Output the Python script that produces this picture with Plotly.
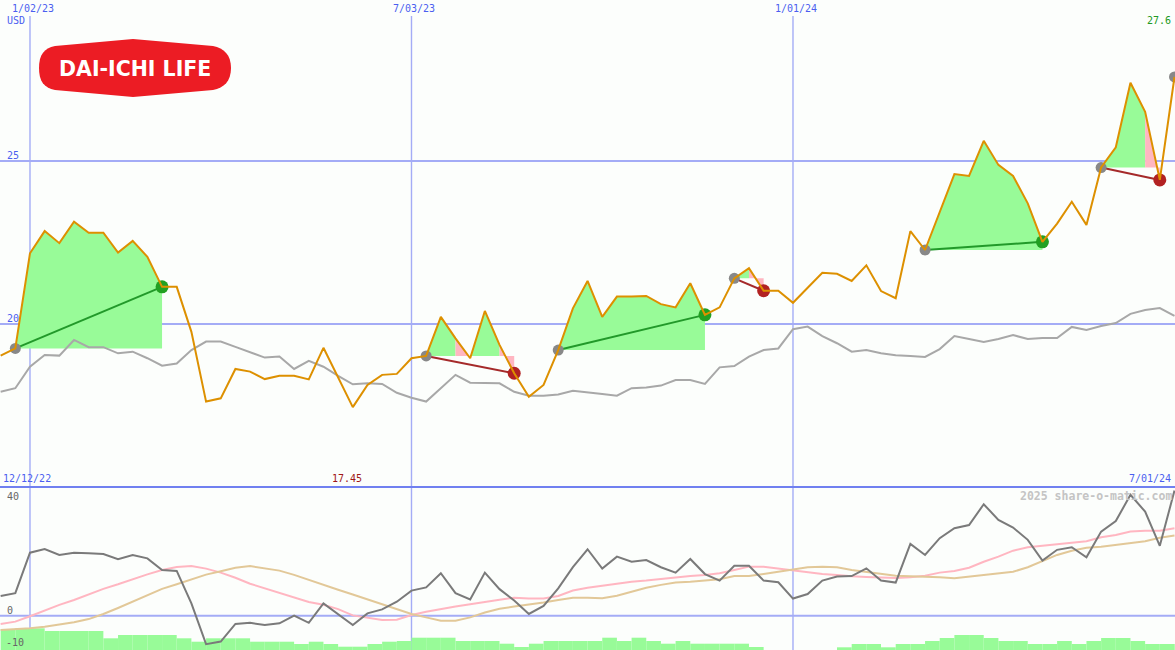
import pandas as pd
import plotly.graph_objects as go

W, H = 1175, 650

# ---------------- data ----------------
dates = pd.date_range("2022-12-19", periods=81, freq="7D")

price = [19.03, 19.25, 22.17, 22.85, 22.48, 23.14, 22.80, 22.80, 22.19, 22.55,
         22.06, 21.14, 21.14, 19.76, 17.62, 17.72, 18.62, 18.54, 18.31, 18.41,
         18.41, 18.30, 19.27, 18.35, 17.45, 18.13, 18.44, 18.47, 18.95, 19.02,
         20.22, 19.56, 18.95, 20.40, 19.36, 18.49, 17.77, 18.13, 19.20, 20.48,
         21.32, 20.22, 20.84, 20.84, 20.86, 20.61, 20.51, 21.25, 20.28, 20.51,
         21.40, 21.71, 21.02, 21.02, 20.65, 21.11, 21.57, 21.54, 21.32, 21.80,
         21.01, 20.79, 22.85, 22.27, 23.44, 24.60, 24.54, 25.62, 24.88, 24.54,
         23.70, 22.52, 23.08, 23.75, 23.04, 24.80, 25.42, 27.40, 26.51, 24.42,
         27.58]

index_line = [17.92, 18.03, 18.69, 19.05, 19.03, 19.51, 19.29, 19.29, 19.10, 19.15,
              18.95, 18.72, 18.79, 19.20, 19.46, 19.46, 19.30, 19.13, 18.97, 19.00,
              18.62, 18.87, 18.69, 18.41, 18.15, 18.18, 18.16, 17.89, 17.74, 17.62,
              18.03, 18.44, 18.20, 18.18, 18.18, 17.92, 17.80, 17.80, 17.84, 17.95,
              17.89, 17.85, 17.80, 18.03, 18.05, 18.11, 18.28, 18.28, 18.16, 18.67,
              18.71, 19.00, 19.20, 19.25, 19.84, 19.92, 19.63, 19.41, 19.15, 19.20,
              19.10, 19.04, 19.02, 18.99, 19.23, 19.63, 19.54, 19.45, 19.54, 19.66,
              19.54, 19.57, 19.57, 19.91, 19.82, 19.94, 20.03, 20.31, 20.43, 20.49,
              20.25]

momentum = [6.9, 7.9, 22.1, 23.4, 21.3, 22.1, 21.9, 21.6, 19.8, 21.3,
            20.1, 16.0, 15.7, 4.3, -10.0, -9.1, -2.9, -2.5, -3.3, -2.7,
            0.0, -2.5, 4.3, 0.6, -3.3, 0.8, 2.2, 4.9, 8.8, 9.9,
            14.9, 7.9, 5.7, 15.1, 9.3, 5.3, 0.6, 3.4, 9.6, 17.0,
            23.3, 16.5, 20.7, 18.9, 19.5, 17.0, 15.1, 19.9, 14.6, 12.3,
            17.5, 17.5, 12.3, 11.7, 6.0, 7.6, 12.3, 13.7, 13.9, 16.6,
            12.3, 11.6, 25.2, 21.3, 27.2, 30.7, 31.8, 39.1, 33.6, 30.9,
            26.6, 19.3, 23.1, 24.0, 20.5, 29.5, 33.2, 42.4, 36.5, 24.5,
            43.9]

ma_fast = [-2.9, -2.1, -0.2, 1.8, 3.8, 5.5, 7.4, 9.4, 11.0, 12.8,
           14.5, 16.0, 17.1, 17.4, 16.5, 15.1, 13.3, 11.2, 9.6, 7.9,
           6.3, 4.8, 3.8, 2.3, 0.1, -0.8, -1.5, -1.4, 0.2, 1.4,
           2.4, 3.2, 4.0, 4.9, 5.6, 6.3, 6.0, 6.0, 6.9, 8.8,
           9.8, 10.5, 11.3, 11.9, 12.3, 12.9, 13.5, 13.9, 14.3, 14.9,
           16.0, 17.2, 17.2, 16.6, 15.9, 15.2, 14.6, 14.3, 13.8, 13.6,
           13.5, 13.2, 13.5, 14.0, 15.1, 15.7, 16.8, 18.9, 20.7, 22.8,
           24.0, 24.6, 25.2, 25.6, 26.1, 27.5, 28.3, 29.5, 29.8, 29.8,
           30.7]

ma_slow = [-5.0, -4.8, -4.4, -3.9, -3.2, -2.3, -1.2, 0.6, 2.7, 4.9,
           7.3, 9.4, 11.0, 12.8, 14.4, 15.6, 16.8, 17.4, 16.7, 15.8,
           14.3, 12.5, 10.7, 9.1, 7.4, 5.7, 4.0, 2.3, 0.6, -0.6,
           -1.8, -1.8, -0.6, 1.1, 2.4, 3.2, 3.8, 4.6, 5.5, 6.3,
           6.3, 6.1, 7.0, 8.4, 9.8, 10.8, 11.6, 11.9, 12.3, 12.8,
           13.9, 13.9, 14.6, 15.4, 16.0, 17.0, 17.2, 17.0, 16.0, 15.3,
           14.6, 14.0, 13.8, 13.7, 13.5, 13.1, 13.7, 14.3, 14.9, 15.4,
           17.0, 19.1, 21.3, 22.8, 23.8, 24.2, 24.8, 25.5, 26.1, 27.3,
           28.1]

volume = [207, 217, 217, 190, 190, 190, 190, 117, 150, 150,
          150, 150, 117, 83, 117, 117, 117, 83, 83, 83,
          60, 83, 60, 33, 33, 60, 83, 90, 123, 123,
          123, 90, 90, 90, 63, 30, 63, 90, 90, 90,
          90, 123, 90, 123, 90, 63, 90, 63, 63, 63,
          63, 30, 0, 0, 0, 0, 0, 27, 60, 60,
          27, 60, 60, 90, 120, 150, 150, 120, 90, 90,
          60, 60, 90, 60, 90, 120, 120, 90, 60, 60,
          60]

entry_idx = [1, 29, 38, 50, 63, 75]
exit_idx = [11, 35, 48, 52, 71, 79]
open_idx = [80]

grid_dates = ["2023-01-02", "2023-07-03", "2024-01-01"]
grid_labels = ["1/02/23", "7/03/23", "1/01/24"]
price_grid = [20, 25]
start_label = "12/12/22"
end_label = "7/01/24"

# ---------------- style ----------------
BG = "#fcfefc"
ORANGE = "#dd9000"
GREY_IDX = "#a8a8a8"
GREEN_FILL = "#98fb98"
PINK_FILL = "#ffb6c1"
WIN_LINE = "#22992a"
WIN_MK = "#22a022"
LOSS_LINE = "#a52a2a"
LOSS_MK = "#b22222"
ENTRY_MK = "#888888"
MOM = "#7a7a7a"
FAST = "#ffb6c1"
SLOW = "#e2c898"
GRID = "#a4acf6"
SEP = "#7080f0"
LBL = "#4b5ef0"
MONO = "DejaVu Sans Mono"


def px(x):
    return x / W


def py(y):
    return 1 - y / H


ds = [d.strftime("%Y-%m-%d") for d in dates]
SPLIT = py(487)
PX_PER_UNIT = 32.6
IND_PX = 2.85

fig = go.Figure()

# volume bars (bottom panel base axis)
fig.add_trace(go.Bar(x=ds, y=volume, yaxis="y2", offset=0,
                     width=7 * 24 * 3600 * 1000,
                     marker=dict(color=GREEN_FILL, line=dict(width=0)),
                     hoverinfo="skip"))

# indicator lines
fig.add_trace(go.Scatter(x=ds, y=ma_fast, yaxis="y3", mode="lines",
                         line=dict(color=FAST, width=2), hoverinfo="skip"))
fig.add_trace(go.Scatter(x=ds, y=ma_slow, yaxis="y3", mode="lines",
                         line=dict(color=SLOW, width=2), hoverinfo="skip"))
fig.add_trace(go.Scatter(x=ds, y=momentum, yaxis="y3", mode="lines",
                         line=dict(color=MOM, width=2), hoverinfo="skip"))

# trade fills
gx, gy, rx, ry = [], [], [], []
for e, xi in zip(entry_idx, exit_idx):
    base = price[e]
    k = e
    while k < xi:
        up = price[k + 1] >= base
        k1 = k
        while k1 + 1 < xi and (price[k1 + 2] >= base) == up:
            k1 += 1
        xs = [ds[k]] + ds[k:k1 + 2] + [ds[k1 + 1], None]
        ys = [base] + price[k:k1 + 2] + [base, None]
        if up:
            gx += xs
            gy += ys
        else:
            rx += xs
            ry += ys
        k = k1 + 1

fig.add_trace(go.Scatter(x=gx, y=gy, mode="lines", fill="toself",
                         fillcolor=GREEN_FILL, line=dict(width=0, color=GREEN_FILL),
                         hoverinfo="skip"))
fig.add_trace(go.Scatter(x=rx, y=ry, mode="lines", fill="toself",
                         fillcolor=PINK_FILL, line=dict(width=0, color=PINK_FILL),
                         hoverinfo="skip"))

# comparison index
fig.add_trace(go.Scatter(x=ds, y=index_line, mode="lines",
                         line=dict(color=GREY_IDX, width=2), hoverinfo="skip"))

# trade lines
wx, wy, lx, ly = [], [], [], []
for e, xi in zip(entry_idx, exit_idx):
    if price[xi] >= price[e]:
        wx += [ds[e], ds[xi], None]
        wy += [price[e], price[xi], None]
    else:
        lx += [ds[e], ds[xi], None]
        ly += [price[e], price[xi], None]
fig.add_trace(go.Scatter(x=wx, y=wy, mode="lines",
                         line=dict(color=WIN_LINE, width=2), hoverinfo="skip"))
fig.add_trace(go.Scatter(x=lx, y=ly, mode="lines",
                         line=dict(color=LOSS_LINE, width=2), hoverinfo="skip"))

# markers
ent = entry_idx + open_idx
fig.add_trace(go.Scatter(x=[ds[i] for i in ent], y=[price[i] for i in ent],
                         mode="markers", marker=dict(color=ENTRY_MK, size=11),
                         hoverinfo="skip"))
ex_col = [WIN_MK if price[xi] >= price[e] else LOSS_MK
          for e, xi in zip(entry_idx, exit_idx)]
fig.add_trace(go.Scatter(x=[ds[i] for i in exit_idx], y=[price[i] for i in exit_idx],
                         mode="markers", marker=dict(color=ex_col, size=13),
                         hoverinfo="skip"))

# price line
fig.add_trace(go.Scatter(x=ds, y=price, mode="lines",
                         line=dict(color=ORANGE, width=2), hoverinfo="skip"))

# ---------------- layout ----------------
x0 = dates[0] - pd.Timedelta(hours=7.4)
x1 = x0 + pd.Timedelta(days=W / (14.673 / 7))

shapes = []
for d in grid_dates:
    shapes.append(dict(type="line", xref="x", yref="paper", x0=d, x1=d,
                       y0=0, y1=py(16), line=dict(color=GRID, width=1.4), layer="below"))
for v in price_grid:
    shapes.append(dict(type="line", xref="paper", yref="y", x0=0, x1=1,
                       y0=v, y1=v, line=dict(color=GRID, width=2), layer="below"))
shapes.append(dict(type="line", xref="paper", yref="y3", x0=0, x1=1,
                   y0=0, y1=0, line=dict(color=GRID, width=2), layer="below"))
shapes.append(dict(type="line", xref="paper", yref="paper", x0=0, x1=1,
                   y0=SPLIT, y1=SPLIT, line=dict(color=SEP, width=2), layer="above"))

# logo badge
logo_pts = "M {a},{b} C {c},{d} {e},{f} {g},{h} L {i},{j} L {k},{l} C {m},{n} {o},{p} {q},{r} " \
           "C {s},{t} {u},{v} {w},{x} L {y},{z} L {aa},{bb} C {cc},{dd} {ee},{ff} {a},{b} Z"
logo_path = logo_pts.format(
    a=px(39), b=py(68), c=px(39), d=py(55), e=px(44), f=py(48), g=px(55), h=py(46),
    i=px(133), j=py(39), k=px(213), l=py(46), m=px(224), n=py(48), o=px(231), p=py(55),
    q=px(231), r=py(68), s=px(231), t=py(81), u=px(224), v=py(88), w=px(213), x=py(90),
    y=px(133), z=py(97), aa=px(55), bb=py(90), cc=px(44), dd=py(88), ee=px(39), ff=py(81))
shapes.append(dict(type="path", xref="paper", yref="paper", path=logo_path,
                   fillcolor="#ec1c24", line=dict(width=0), layer="above"))

ann = []


def lab(text, x, y, color, xanchor="left", xref="paper", size=10, xshift=0, yref="paper",
        yshift=0, family=MONO):
    ann.append(dict(text=text, x=x, y=y, xref=xref, yref=yref, xanchor=xanchor,
                    yanchor="middle", showarrow=False, xshift=xshift, yshift=yshift,
                    font=dict(family=family, size=size, color=color)))


for d, t in zip(grid_dates, grid_labels):
    lab(t, d, py(8), LBL, xanchor="center", xref="x", xshift=3)
lab("USD", px(5), py(20), LBL)
for v in price_grid:
    lab(str(v), px(5), v, LBL, yref="y", yshift=6)
lab(f"{price[-1]:.1f}", px(1173), py(21), "#229922", xanchor="right")
lab(start_label, px(1), py(478.5), LBL)
imin = price.index(min(price))
lab(f"{min(price):.2f}", ds[imin], py(478.5), "#a01818", xanchor="center", xref="x", xshift=-6)
lab(end_label, px(1173), py(478.5), LBL, xanchor="right")
lab("<b>2025 share-o-matic.com</b>", px(1174), py(496), "#c4c4c4", xanchor="right", size=11.5)
lab("40", px(5), py(496), "#666666")
lab("0", px(5), py(610), "#666666")
lab("-10", px(4), py(642), "#666666")
lab("<b>DAI-ICHI LIFE</b>", px(134.5), py(68.5), "#ffffff", xanchor="center",
    size=20.5, family="DejaVu Sans")

fig.update_layout(
    width=W, height=H,
    margin=dict(l=0, r=0, t=0, b=0),
    paper_bgcolor=BG, plot_bgcolor=BG,
    showlegend=False,
    xaxis=dict(type="date", range=[x0, x1], visible=False, domain=[0, 1]),
    yaxis=dict(domain=[SPLIT, 1], range=[15, 15 + 487 / PX_PER_UNIT], visible=False),
    yaxis2=dict(domain=[0, SPLIT], range=[0, 1630], visible=False),
    yaxis3=dict(domain=[0, SPLIT], overlaying="y2",
                range=[-12.05, -12.05 + 163 / IND_PX], visible=False),
    shapes=shapes,
    annotations=ann,
)

fig.write_html(
    "out.html",
    config={"displayModeBar": False},
    post_script="document.body.style.margin='0';document.body.style.padding='0';"
                "document.body.style.overflow='hidden';"
                "document.documentElement.style.overflow='hidden';",
)
